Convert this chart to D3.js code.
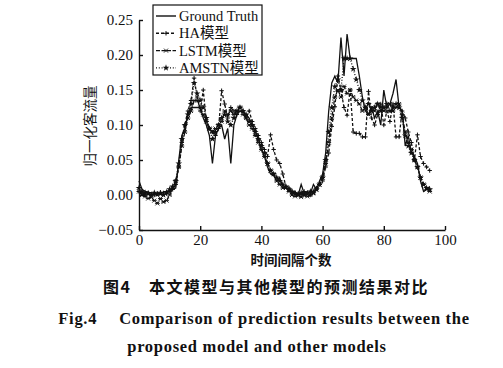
<!--
Passenger flow prediction comparison chart
-->
<html>
<head>
<meta charset="utf-8">
<script src="https://d3js.org/d3.v7.min.js"></script>
<style>
  body { margin: 0; background: #fff; }
  text { fill: #111; }
</style>
</head>
<body>
<script>
// ---- data (x = 0..95) ----
var groundTruth = [0.020,0.008,0.005,0.004,0.003,0.002,0.003,0.002,0.004,0.005,
  0.006,0.008,0.010,0.050,0.085,0.095,0.115,0.125,0.125,0.125,
  0.125,0.110,0.100,0.085,0.045,0.085,0.095,0.100,0.080,0.095,
  0.045,0.100,0.115,0.120,0.118,0.115,0.110,0.100,0.090,0.080,
  0.065,0.055,0.040,0.030,0.028,0.020,0.025,0.012,0.010,0.008,
  0.002,0.005,0.000,0.015,0.002,0.005,0.002,0.015,0.008,0.020,
  0.030,0.060,0.120,0.160,0.170,0.160,0.225,0.170,0.230,0.195,
  0.195,0.195,0.170,0.140,0.120,0.115,0.125,0.110,0.120,0.100,
  0.150,0.125,0.130,0.145,0.165,0.125,0.120,0.070,0.085,0.060,
  0.055,0.045,0.020,0.005,0.008,0.012];

var haModel = [0.005,0.002,0.000,0.003,0.001,0.000,0.002,0.004,0.003,0.002,
  0.005,0.008,0.015,0.040,0.075,0.100,0.120,0.135,0.167,0.140,
  0.120,0.150,0.105,0.095,0.090,0.085,0.095,0.149,0.130,0.110,
  0.125,0.120,0.115,0.125,0.120,0.110,0.120,0.105,0.095,0.085,
  0.075,0.065,0.055,0.086,0.065,0.050,0.045,0.030,0.012,0.010,
  0.005,0.003,0.002,0.000,0.005,0.003,0.000,0.005,0.010,0.015,
  0.020,0.040,0.060,0.098,0.126,0.170,0.150,0.125,0.114,0.150,
  0.090,0.088,0.088,0.083,0.083,0.148,0.110,0.100,0.115,0.130,
  0.100,0.120,0.105,0.130,0.083,0.083,0.120,0.110,0.090,0.075,
  0.050,0.086,0.055,0.045,0.040,0.035];

var lstmModel = [0.005,0.000,-0.002,-0.005,-0.003,-0.008,-0.012,-0.005,-0.010,-0.008,
  0.000,0.010,0.020,0.040,0.070,0.090,0.110,0.120,0.135,0.135,
  0.125,0.115,0.105,0.095,0.090,0.095,0.100,0.105,0.120,0.115,
  0.120,0.115,0.120,0.125,0.115,0.110,0.100,0.095,0.085,0.075,
  0.065,0.055,0.045,0.035,0.030,0.020,0.015,0.010,0.010,0.005,
  0.000,-0.002,0.000,-0.003,0.002,-0.002,0.000,0.003,0.008,0.015,
  0.025,0.045,0.075,0.110,0.140,0.150,0.140,0.155,0.145,0.150,
  0.140,0.135,0.130,0.120,0.125,0.115,0.125,0.120,0.130,0.125,
  0.120,0.125,0.130,0.120,0.125,0.130,0.115,0.090,0.075,0.065,
  0.050,0.040,0.025,0.015,0.008,0.005];

var amstnModel = [0.010,0.005,0.003,0.002,0.000,0.003,0.001,0.002,0.000,0.004,
  0.008,0.012,0.020,0.045,0.080,0.100,0.115,0.130,0.160,0.145,
  0.135,0.125,0.110,0.095,0.080,0.090,0.100,0.110,0.115,0.105,
  0.100,0.110,0.120,0.125,0.120,0.115,0.105,0.100,0.090,0.080,
  0.070,0.060,0.045,0.035,0.030,0.025,0.020,0.015,0.012,0.008,
  0.005,0.002,0.000,0.003,0.000,0.002,0.005,0.003,0.008,0.015,
  0.025,0.050,0.090,0.125,0.155,0.165,0.150,0.195,0.195,0.195,
  0.180,0.165,0.150,0.135,0.125,0.130,0.120,0.125,0.130,0.120,
  0.125,0.130,0.120,0.125,0.130,0.125,0.110,0.085,0.070,0.060,
  0.050,0.040,0.025,0.015,0.010,0.008];

var seriesNames = ["Ground Truth", "HA模型", "LSTM模型", "AMSTN模型"];
var xTicks = [0, 20, 40, 60, 80, 100];
var yTicks = [-0.05, 0, 0.05, 0.10, 0.15, 0.20, 0.25];

var margin = {top: 20, left: 139},
    width = 306,
    height = 210;

var svg = d3.select("body").append("svg")
    .attr("width", 503)
    .attr("height", 368);

var g = svg.append("g")
    .attr("transform", "translate(" + margin.left + "," + margin.top + ")");

var x = d3.scaleLinear().domain([0, 100]).range([0, width]);
var y = d3.scaleLinear().domain([-0.05, 0.25]).range([height, 0]);

var serif = "'Liberation Serif', 'Times New Roman', serif";
var cjk = "'Noto Sans CJK SC', sans-serif";

// axes, ticks pointing inward
var xAxis = g.append("g")
    .attr("transform", "translate(0," + height + ")")
    .call(d3.axisBottom(x).tickValues(xTicks).tickSizeInner(-4).tickSizeOuter(0).tickPadding(4));

var yAxis = g.append("g")
    .call(d3.axisLeft(y).tickValues(yTicks).tickSizeInner(-4).tickSizeOuter(0).tickPadding(6)
      .tickFormat(d => d < 0 ? "\u22120.05" : d3.format(".2f")(d)));

[xAxis, yAxis].forEach(a => {
  a.selectAll("path, line").attr("stroke", "#111").attr("stroke-width", 1.4);
  a.selectAll("text").style("font-family", serif).style("font-size", "15px").attr("fill", "#111");
});

var line = d3.line().x((d, i) => x(i)).y(d => y(d));

var styles = [
  {data: groundTruth, dash: null, marker: null},
  {data: haModel, dash: "3,2", marker: "plus"},
  {data: lstmModel, dash: "4,1.5", marker: "cross"},
  {data: amstnModel, dash: "1,1.8", marker: "star"}
];

function drawMarker(sel, type, cx, cy) {
  if (type === "plus") {
    sel.append("path").attr("d", "M" + (cx - 2.2) + "," + cy + "h4.4M" + cx + "," + (cy - 2.2) + "v4.4")
      .attr("stroke", "#111").attr("stroke-width", 1).attr("fill", "none");
  } else if (type === "cross") {
    sel.append("path").attr("d", "M" + (cx - 2) + "," + (cy - 2) + "l4,4M" + (cx - 2) + "," + (cy + 2) + "l4,-4M" + (cx - 2.4) + "," + cy + "h4.8")
      .attr("stroke", "#111").attr("stroke-width", 0.9).attr("fill", "none");
  } else if (type === "star") {
    sel.append("path").attr("d", d3.symbol().type(d3.symbolStar).size(14)())
      .attr("transform", "translate(" + cx + "," + cy + ")")
      .attr("fill", "#111");
  }
}

styles.forEach(s => {
  g.append("path")
    .datum(s.data)
    .attr("d", line)
    .attr("fill", "none")
    .attr("stroke", "#111")
    .attr("stroke-width", 1.3)
    .attr("stroke-dasharray", s.dash);
  if (s.marker) {
    var mg = g.append("g");
    s.data.forEach((d, i) => drawMarker(mg, s.marker, x(i), y(d)));
  }
});

// legend
var legend = svg.append("g").attr("transform", "translate(153,5)");
legend.append("rect")
    .attr("width", 109).attr("height", 70)
    .attr("fill", "#fff").attr("stroke", "#111").attr("stroke-width", 1.2);

seriesNames.forEach((name, i) => {
  var ly = 11 + i * 17.3;
  var s = styles[i];
  legend.append("line")
    .attr("x1", 3).attr("x2", 23).attr("y1", ly).attr("y2", ly)
    .attr("stroke", "#111").attr("stroke-width", 1.4)
    .attr("stroke-dasharray", s.dash);
  if (s.marker) drawMarker(legend, s.marker, 13, ly);
  legend.append("text")
    .attr("x", 26).attr("y", ly + 5)
    .style("font-family", serif + ", " + cjk)
    .style("font-size", "14.5px")
    .text(name);
});

// axis titles
svg.append("text")
    .attr("transform", "translate(95,126) rotate(-90)")
    .attr("text-anchor", "middle")
    .style("font-family", cjk)
    .style("font-size", "13.5px")
    .text("归一化客流量");

svg.append("text")
    .attr("x", 291).attr("y", 265)
    .attr("text-anchor", "middle")
    .style("font-family", cjk)
    .style("font-size", "13.5px")
    .style("font-weight", "bold")
    .text("时间间隔个数");

// caption
svg.append("text")
    .attr("x", 266).attr("y", 293)
    .attr("text-anchor", "middle")
    .style("font-family", cjk)
    .style("font-size", "16px")
    .style("font-weight", "bold")
    .style("letter-spacing", "1.5px")
    .text("图4\u3000本文模型与其他模型的预测结果对比");

svg.append("text")
    .attr("x", 264).attr("y", 324)
    .attr("text-anchor", "middle")
    .style("font-family", serif)
    .style("font-size", "16.5px")
    .style("font-weight", "bold")
    .style("letter-spacing", "0.7px")
    .text("Fig.4\u2003 Comparison of prediction results between the");

svg.append("text")
    .attr("x", 257).attr("y", 352)
    .attr("text-anchor", "middle")
    .style("font-family", serif)
    .style("font-size", "16.5px")
    .style("font-weight", "bold")
    .style("letter-spacing", "0.7px")
    .text("proposed model and other models");
</script>
</body>
</html>
